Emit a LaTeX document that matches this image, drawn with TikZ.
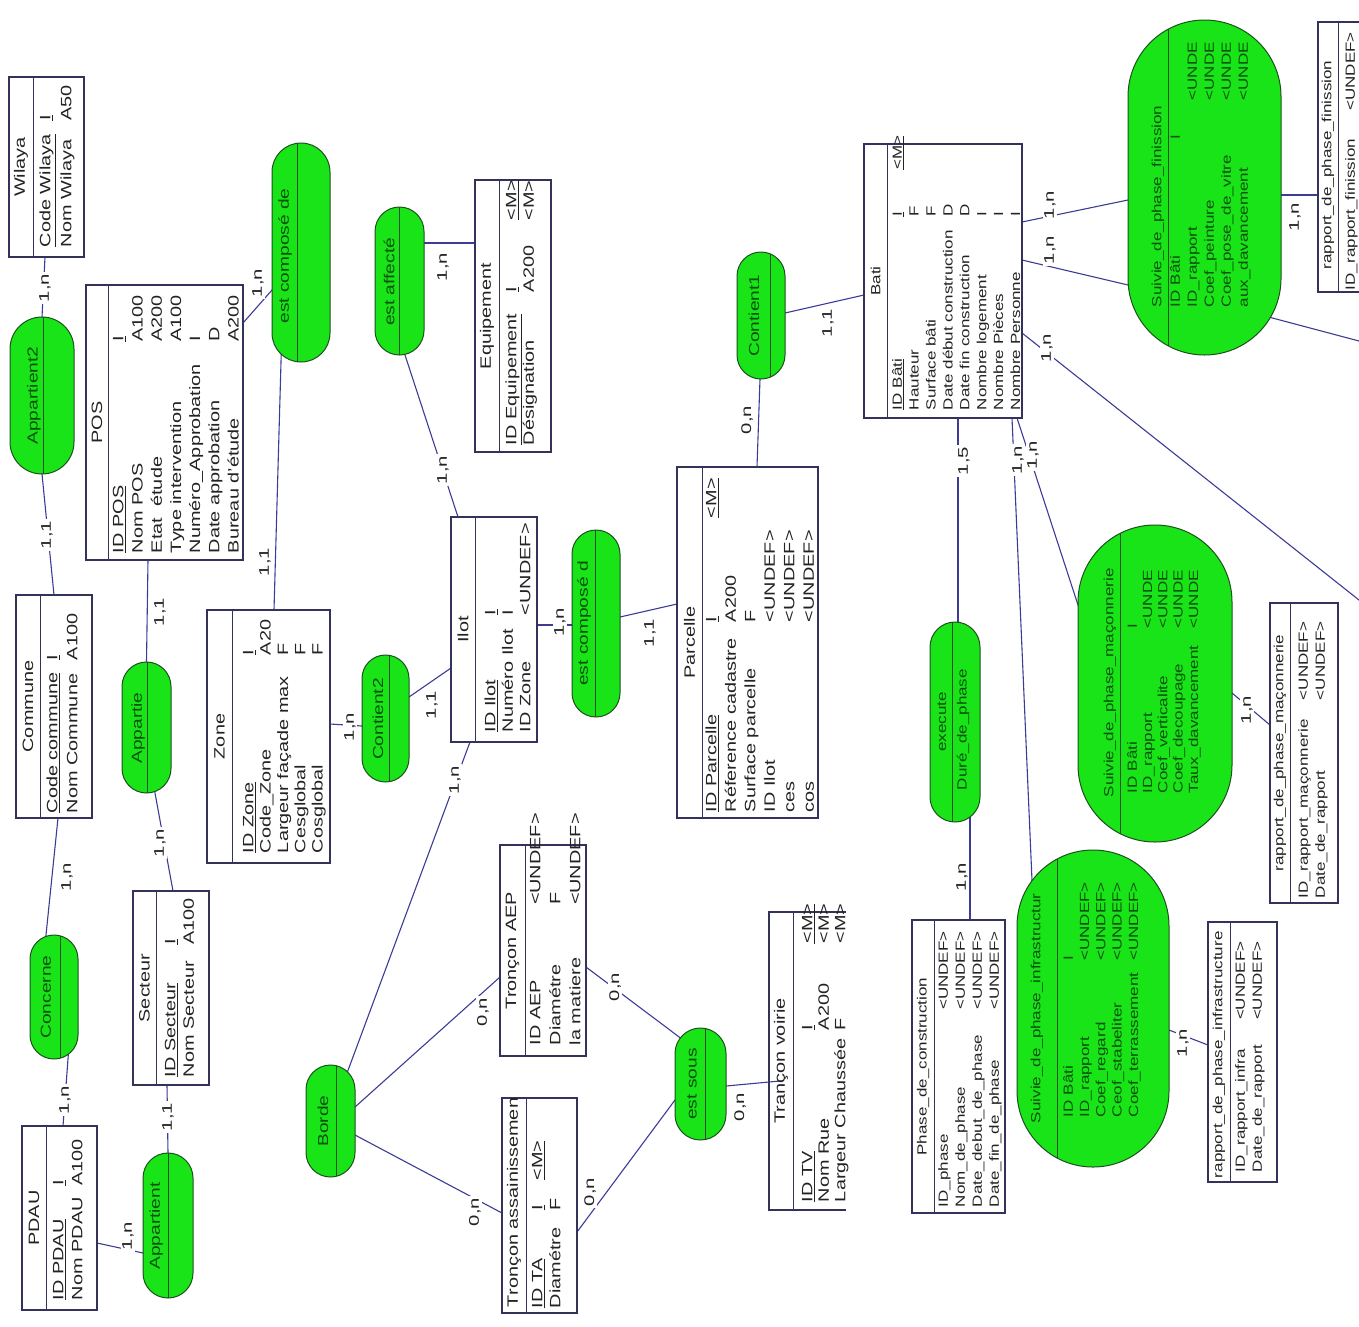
\documentclass[tikz,border=0pt]{standalone}
\usepackage{fontspec}
\setmainfont{Liberation Sans}
\usetikzlibrary{fit,calc,backgrounds}
\definecolor{boxc}{RGB}{50,50,90}
\definecolor{relf}{RGB}{24,228,24}
\definecolor{reld}{RGB}{30,80,30}
\definecolor{linec}{RGB}{60,60,150}
\definecolor{txtc}{RGB}{35,35,35}
\definecolor{reltxt}{RGB}{10,80,10}
\tikzset{
 ent/.style={draw=boxc, fill=white, line width=1.2pt, inner sep=0pt, outer sep=0pt},
 rel/.style={draw=reld, fill=relf, line width=1pt, inner sep=0pt, outer sep=0pt, rounded corners=#1},
 dv/.style={draw=boxc, line width=1pt},
 rdv/.style={draw=reld, line width=1pt},
 cn/.style={draw=linec, line width=1.1pt, shorten <=-10pt, shorten >=-10pt},
 tx/.style n args={3}{rotate=90, inner sep=0pt, outer sep=0pt, text=txtc, font=\fontsize{#1}{#2}\selectfont, xscale=#3},
 L/.style={tx={15}{#1}{1.325}, anchor=north west},
 R/.style={tx={13.3}{#1}{1.278}, anchor=north west},
 LT/.style={tx={15}{17}{1.325}},
 RT/.style={tx={13.3}{15}{1.278}},
 rn/.style={tx={14.5}{16}{1.32}, text=reltxt},
 rrn/.style={tx={13.3}{15}{1.278}, text=reltxt},
 rra/.style={tx={13.3}{#1}{1.278}, text=reltxt, anchor=north west},
 card/.style={tx={14}{15}{1.45}, fill=white, inner sep=1.5pt},
}
\begin{document}
\begin{tikzpicture}[x=1pt,y=-1pt]
\useasboundingbox (0,0) rectangle (1359,1326);
\coordinate (offa) at (1359,600);
\coordinate (offb) at (1359,341);
% ---------------- entities ----------------
% Wilaya
\node[ent, fit={(9,77)(84,257)}] (wil) {};
\draw[dv] (wil.north -| 33,0) -- (wil.south -| 33,0);
\node[LT] at (21,167) {Wilaya};
\node[L=21] at (35.6,247) {\begin{tabular}{@{}p{95.4pt}@{}l@{}}\underline{Code Wilaya}&\underline{I}\\Nom Wilaya&A50\end{tabular}};
% POS
\node[ent, fit={(86,285)(243,560)}] (pos) {};
\draw[dv] (pos.north -| 108,0) -- (pos.south -| 108,0);
\node[LT] at (97,422.5) {POS};
\node[L=19.2] at (110,553) {\begin{tabular}{@{}p{159.3pt}@{}l@{}}\underline{ID POS}&\underline{I}\\Nom POS&A100\\Etat~~étude&A200\\Type intervention&A100\\Numéro\_Approbation&I\\Date approbation&D\\Bureau d'étude&A200\end{tabular}};
% Commune
\node[ent, fit={(16,595)(92,818)}] (com) {};
\draw[dv] (com.north -| 40,0) -- (com.south -| 40,0);
\node[LT] at (28,706.5) {Commune};
\node[L=20] at (43.4,813) {\begin{tabular}{@{}p{115.4pt}@{}l@{}}\underline{Code commune}&\underline{I}\\Nom Commune&A100\end{tabular}};
% Zone
\node[ent, fit={(207,610)(330,863)}] (zone) {};
\draw[dv] (zone.north -| 232,0) -- (zone.south -| 232,0);
\node[LT] at (219.5,736.5) {Zone};
\node[L=17.3] at (241.3,853) {\begin{tabular}{@{}p{149.4pt}@{}l@{}}\underline{ID Zone}&\underline{I}\\Code\_Zone&A20\\Largeur façade max&F\\Cesglobal&F\\Cosglobal&F\end{tabular}};
% Secteur
\node[ent, fit={(133,891)(209,1085)}] (sect) {};
\draw[dv] (sect.north -| 156,0) -- (sect.south -| 156,0);
\node[LT] at (144.5,988) {Secteur};
\node[L=18.5] at (162.4,1077) {\begin{tabular}{@{}p{99.7pt}@{}l@{}}\underline{ID Secteur}&\underline{I}\\Nom Secteur&A100\end{tabular}};
% PDAU
\node[ent, fit={(22,1126)(97,1310)}] (pdau) {};
\draw[dv] (pdau.north -| 46,0) -- (pdau.south -| 46,0);
\node[LT] at (34,1218) {PDAU};
\node[L=19] at (50.1,1300) {\begin{tabular}{@{}p{86.1pt}@{}l@{}}\underline{ID PDAU}&\underline{I}\\Nom PDAU&A100\end{tabular}};
% Equipement
\node[ent, fit={(475,180)(551,452)}] (equ) {};
\draw[dv] (equ.north -| 499,0) -- (equ.south -| 499,0);
\node[LT] at (487,316) {Equipement};
\node[L=17.5] at (504.2,445) {\begin{tabular}{@{}p{115.4pt}@{}p{54.3pt}@{}l@{}}\underline{ID Equipement}&\underline{I}&\underline{<M>}\\Désignation&A200&<M>\end{tabular}};
% Ilot
\node[ent, fit={(451,517)(537,742)}] (ilot) {};
\draw[dv] (ilot.north -| 475,0) -- (ilot.south -| 475,0);
\node[LT] at (463,629.5) {Ilot};
\node[L=17.5] at (483.2,732) {\begin{tabular}{@{}p{88.3pt}@{}l@{}}\underline{ID Ilot}&\underline{I}\\Numéro Ilot&I\\ID Zone&<UNDEF>\end{tabular}};
% Parcelle
\node[ent, fit={(677,467)(818,818)}] (parc) {};
\draw[dv] (parc.north -| 702,0) -- (parc.south -| 702,0);
\node[LT] at (689.5,642.5) {Parcelle};
\node[L=19.5] at (702.8,812) {\begin{tabular}{@{}p{143.4pt}@{}p{78.4pt}@{}l@{}}\underline{ID Parcelle}&\underline{I}&\underline{<M>}\\Réference cadastre&A200&\\Surface parcelle&F&\\ID Ilot&<UNDEF>&\\ces&<UNDEF>&\\cos&<UNDEF>&\end{tabular}};
% Troncon AEP
\node[ent, fit={(500,845)(586,1056)}] (aep) {};
\draw[dv] (aep.north -| 525,0) -- (aep.south -| 525,0);
\node[LT] at (512.5,950.5) {Tronçon AEP};
\node[L=20] at (526.4,1045) {\begin{tabular}{@{}p{105.7pt}@{}l@{}}ID AEP&<UNDEF>\\Diamétre&F\\la matiere&<UNDEF>\end{tabular}};
% Troncon assainissement
\node[ent, fit={(502,1098)(577,1313)}] (ta) {};
\draw[dv] (ta.north -| 526,0) -- (ta.south -| 526,0);
\node[LT, anchor=west] at (514,1307) {Tronçon assainissemen};
\node[L=18] at (529.8,1308) {\begin{tabular}{@{}p{73.9pt}@{}p{22.5pt}@{}l@{}}\underline{ID TA}&\underline{I}&\underline{<M>}\\Diamétre&F&\end{tabular}};
% Troncon voirie (right side cut)
\node[fit={(769,912)(846,1210)}, inner sep=0pt, outer sep=0pt] (voi) {};
\draw[boxc, line width=1.2pt] (voi.north east) -- (voi.north west) -- (voi.south west) -- (voi.south east);
\draw[dv] (voi.north -| 793,0) -- (voi.south -| 793,0);
\node[LT] at (781,1061) {Trançon voirie};
\node[L=16.5] at (800.9,1202) {\begin{tabular}{@{}p{129.7pt}@{}p{65.4pt}@{}l@{}}\underline{ID TV}&\underline{I}&\underline{<M>}\\Nom Rue&A200&<M>\\Largeur Chaussée&F&<M>\end{tabular}};
% Bati
\node[ent, fit={(864,144)(1022,418)}] (bati) {};
\draw[dv] (bati.north -| 887,0) -- (bati.south -| 887,0);
\node[RT] at (875.5,281) {Bati};
\node[R=16.9] at (890,410) {\begin{tabular}{@{}p{151.1pt}@{}p{36.8pt}@{}l@{}}\underline{ID Bâti}&\underline{I}&\underline{<M>}\\Hauteur&F&\\Surface bâti&F&\\Date début construction&D&\\Date fin construction&D&\\Nombre logement&I&\\Nombre Pièces&I&\\Nombre Personne&I&\end{tabular}};
% Phase_de_construction
\node[ent, fit={(912,920)(1005,1213)}] (phase) {};
\draw[dv] (phase.north -| 934,0) -- (phase.south -| 934,0);
\node[RT] at (923,1066.5) {Phase\_de\_construction};
\node[R=17] at (935.9,1207) {\begin{tabular}{@{}p{154.3pt}@{}l@{}}ID\_phase&<UNDEF>\\Nom\_de\_phase&<UNDEF>\\Date\_debut\_de\_phase&<UNDEF>\\Date\_fin\_de\_phase&<UNDEF>\end{tabular}};
% rapport infra
\node[ent, fit={(1208,922)(1277,1182)}] (rinfra) {};
\draw[dv] (rinfra.north -| 1230,0) -- (rinfra.south -| 1230,0);
\node[RT, anchor=west] at (1219,1178) {rapport\_de\_phase\_infrastructure};
\node[R=17] at (1232.9,1172) {\begin{tabular}{@{}p{119pt}@{}l@{}}ID\_rapport\_infra&<UNDEF>\\Date\_de\_rapport&<UNDEF>\end{tabular}};
% rapport maconnerie
\node[ent, fit={(1270,603)(1338,903)}] (rmac) {};
\draw[dv] (rmac.north -| 1290,0) -- (rmac.south -| 1290,0);
\node[RT] at (1280,753) {rapport\_de\_phase\_maçonnerie};
\node[R=17] at (1295.9,898) {\begin{tabular}{@{}p{154.9pt}@{}l@{}}ID\_rapport\_maçonnerie&<UNDEF>\\Date\_de\_rapport&<UNDEF>\end{tabular}};
% rapport finission
\node[ent, fit={(1318,22)(1380,292)}] (rfin) {};
\draw[dv] (rfin.north -| 1338,0) -- (rfin.south -| 1338,0);
\node[RT] at (1328,165) {rapport\_de\_phase\_finission};
\node[R=17] at (1342.9,290) {\begin{tabular}{@{}p{140.5pt}@{}l@{}}ID\_rapport\_finission&<UNDEF>\end{tabular}};
% ---------------- relations ----------------
\node[rel=32pt, fit={(10,317)(74,474)}] (app2) {};
\draw[rdv] ($(app2.center)+(1,-78.5)$) -- ($(app2.center)+(1,78.5)$);
\node[rn] at (34,395.5) {Appartient2};
\node[rel=29pt, fit={(272,143)(330,362)}] (ecd) {};
\draw[rdv] ($(ecd.center)+(-4,-109.2)$) -- ($(ecd.center)+(-4,109.2)$);
\node[rn] at (285,256) {est composé de};
\node[rel=24.5pt, fit={(375,207)(424,355)}] (eaf) {};
\draw[rdv] ($(eaf.center)+(-0.5,-74)$) -- ($(eaf.center)+(-0.5,74)$);
\node[rn] at (389,282) {est affecté};
\node[rel=24.5pt, fit={(122,662)(171,793)}] (appe) {};
\draw[rdv] ($(appe.center)+(0.5,-65.5)$) -- ($(appe.center)+(0.5,65.5)$);
\node[rn] at (138,728) {Appartie};
\node[rel=23.5pt, fit={(362,655)(409,782)}] (ct2) {};
\draw[rdv] ($(ct2.center)+(3.5,-63.2)$) -- ($(ct2.center)+(3.5,63.2)$);
\node[rn] at (378,719) {Contient2};
\node[rel=24pt, fit={(30,935)(78,1059)}] (conc) {};
\draw[rdv] ($(conc.center)+(6,-61.2)$) -- ($(conc.center)+(6,61.2)$);
\node[rn] at (46,997) {Concerne};
\node[rel=25pt, fit={(143,1153)(193,1298)}] (appt) {};
\draw[rdv] ($(appt.center)+(0,-72.5)$) -- ($(appt.center)+(0,72.5)$);
\node[rn] at (156,1226) {Appartient};
\node[rel=24.5pt, fit={(306,1065)(355,1177)}] (borde) {};
\draw[rdv] ($(borde.center)+(5.5,-55.4)$) -- ($(borde.center)+(5.5,55.4)$);
\node[rn] at (323,1121) {Borde};
\node[rel=24pt, fit={(572,530)(620,717)}] (ecd2) {};
\draw[rdv] ($(ecd2.center)+(-1,-93.5)$) -- ($(ecd2.center)+(-1,93.5)$);
\node[rn] at (584,623.5) {est composé d};
\node[rel=24pt, fit={(737,252)(785,379)}] (ct1) {};
\draw[rdv] ($(ct1.center)+(9,-61.7)$) -- ($(ct1.center)+(9,61.7)$);
\node[rn] at (754,315.5) {Contient1};
\node[rel=25.5pt, fit={(675,1028)(726,1140)}] (esous) {};
\draw[rdv] ($(esous.center)+(4.5,-55.6)$) -- ($(esous.center)+(4.5,55.6)$);
\node[rn] at (692,1084) {est sous};
\node[rel=25pt, fit={(930,622)(980,822)}] (exe) {};
\draw[rdv] ($(exe.center)+(-3,-99.8)$) -- ($(exe.center)+(-3,99.8)$);
\node[rrn] at (942,722) {execute};
\node[rrn, anchor=west] at (963,790) {Duré\_de\_phase};
\node[rel=76.5pt, fit={(1128,20)(1281,355)}] (sfin) {};
\draw[rdv] ($(sfin.center)+(-36.5,-158.2)$) -- ($(sfin.center)+(-36.5,158.2)$);
\node[rrn, anchor=west] at (1158,307) {Suivie\_de\_phase\_finission};
\node[rra=17] at (1167.9,307) {\begin{tabular}{@{}p{161.7pt}@{}l@{}}ID Bâti&\hspace{-31pt}I\\ID\_rapport&<UNDE\\Coef\_peinture&<UNDE\\Coef\_pose\_de\_vitre&<UNDE\\aux\_davancement&<UNDE\end{tabular}};
\node[rel=77pt, fit={(1078,525)(1232,842)}] (smac) {};
\draw[rdv] ($(smac.center)+(-35,-150.1)$) -- ($(smac.center)+(-35,150.1)$);
\node[rrn, anchor=west] at (1110,797) {Suivie\_de\_phase\_maçonnerie};
\node[rra=15.3] at (1126.1,793) {\begin{tabular}{@{}p{128.8pt}@{}l@{}}ID Bâti&I\\ID\_rapport&<UNDE\\Coef\_verticalite&<UNDE\\Coef\_decoupage&<UNDE\\Taux\_davancement&<UNDE\end{tabular}};
\node[rel=76pt, fit={(1017,850)(1169,1167)}] (sinfra) {};
\draw[rdv] ($(sinfra.center)+(-36,-149.4)$) -- ($(sinfra.center)+(-36,149.4)$);
\node[rrn, anchor=west] at (1037,1123) {Suivie\_de\_phase\_infrastructur};
\node[rra=16.3] at (1061.4,1117) {\begin{tabular}{@{}p{122.4pt}@{}l@{}}ID Bâti&I\\ID\_rapport&<UNDEF>\\Coef\_regard&<UNDEF>\\Ceof\_stabeliter&<UNDEF>\\Coef\_terrassement&<UNDEF>\end{tabular}};
% ---------------- connectors ----------------
\begin{pgfonlayer}{background}
\fill[white] (0,0) rectangle (1359,1326);
\draw[cn] (wil.south -| 45,0) -- (app2.north);
\draw[cn] (app2.south) -- (com.north -| 54,0);
\draw[cn] (com.south -| 58,0) -- (conc.north -| 46,0);
\draw[cn] (conc.south -| 68,0) -- (pdau.north -| 63,0);
\draw[cn] (pdau.east |- 0,1243) -- (appt.west |- 0,1253);
\draw[cn] (appt.north) -- (sect.south -| 167,0);
\draw[cn] (sect.north -| 173,0) -- (appe.south -| 155,0);
\draw[cn] (appe.north) -- (pos.south -| 148,0);
\draw[cn] (pos.east |- 0,323) -- (ecd.west |- 0,290);
\draw[cn] (ecd.south -| 281,0) -- (zone.north -| 274,0);
\draw[cn] (zone.east |- 0,724) -- (ct2.west |- 0,726);
\draw[cn] (ct2.east |- 0,697) -- (ilot.west |- 0,668);
\draw[cn] (eaf.south -| 405,0) -- (ilot.north -| 458,0);
\draw[cn] (eaf.east |- 0,243) -- (equ.west |- 0,243);
\draw[cn] (ilot.east |- 0,625) -- (ecd2.west |- 0,625);
\draw[cn] (ecd2.east |- 0,617) -- (parc.west |- 0,604);
\draw[cn] (parc.north -| 757,0) -- (ct1.south -| 760,0);
\draw[cn] (ct1.east |- 0,313) -- (bati.west |- 0,295);
\draw[cn] (ilot.south -| 470,0) -- (borde.north -| 350,0);
\draw[cn] (borde.east |- 0,1107) -- (aep.west |- 0,977);
\draw[cn] (borde.east |- 0,1135) -- (ta.west |- 0,1213);
\draw[cn] (aep.east |- 0,967) -- ($(esous.center)+(-20,-46)$);
\draw[cn] (ta.east |- 0,1232) -- (esous.west |- 0,1100);
\draw[cn] (esous.east |- 0,1086) -- (voi.west |- 0,1082);
\draw[cn] (bati.south -| 958,0) -- (exe.north -| 958,0);
\draw[cn] (exe.south -| 970,0) -- (phase.north -| 970,0);
\draw[cn] (bati.south -| 1012,0) -- ($(sinfra.center)+(-61,-128)$);
\draw[cn] (bati.south -| 1017,0) -- (smac.west |- 0,605);
\draw[cn] (bati.east |- 0,333) -- (offa);
\draw[cn] (bati.east |- 0,222) -- (sfin.west |- 0,200);
\draw[cn] (bati.east |- 0,260) -- (sfin.west |- 0,285);
\draw[cn] (sfin.east |- 0,195) -- (rfin.west |- 0,195);
\draw[cn] ($(sfin.center)+(66,130)$) -- (offb);
\draw[cn] (smac.east |- 0,693) -- (rmac.west |- 0,725);
\draw[cn] (sinfra.east |- 0,1030) -- (rinfra.west |- 0,1045);
\end{pgfonlayer}
% ---------------- cardinalities ----------------
\node[card] at (45,288) {1,n};
\node[card] at (47,535) {1,1};
\node[card] at (67,877) {1,n};
\node[card] at (65,1100) {1,n};
\node[card] at (128,1236) {1,n};
\node[card] at (168,1117) {1,1};
\node[card] at (160,843) {1,n};
\node[card] at (160,612) {1,1};
\node[card] at (258,283) {1,n};
\node[card] at (265,562) {1,1};
\node[card] at (350,727) {1,n};
\node[card] at (432,705) {1,1};
\node[card] at (443,470) {1,n};
\node[card] at (443,267) {1,n};
\node[card] at (560,622) {1,n};
\node[card] at (650,633) {1,1};
\node[card] at (747,420) {0,n};
\node[card] at (828,323) {1,1};
\node[card] at (455,780) {1,n};
\node[card] at (483,1012) {0,n};
\node[card] at (475,1212) {0,n};
\node[card] at (615,987) {0,n};
\node[card] at (590,1192) {0,n};
\node[card] at (740,1107) {0,n};
\node[card] at (964,461) {1,5};
\node[card] at (962,877) {1,n};
\node[card] at (1018,460) {1,n};
\node[card] at (1033,455) {1,n};
\node[card] at (1047,348) {1,n};
\node[card] at (1050,205) {1,n};
\node[card] at (1050,250) {1,n};
\node[card] at (1295,217) {1,n};
\node[card] at (1247,710) {1,n};
\node[card] at (1183,1043) {1,n};
\end{tikzpicture}
\end{document}
